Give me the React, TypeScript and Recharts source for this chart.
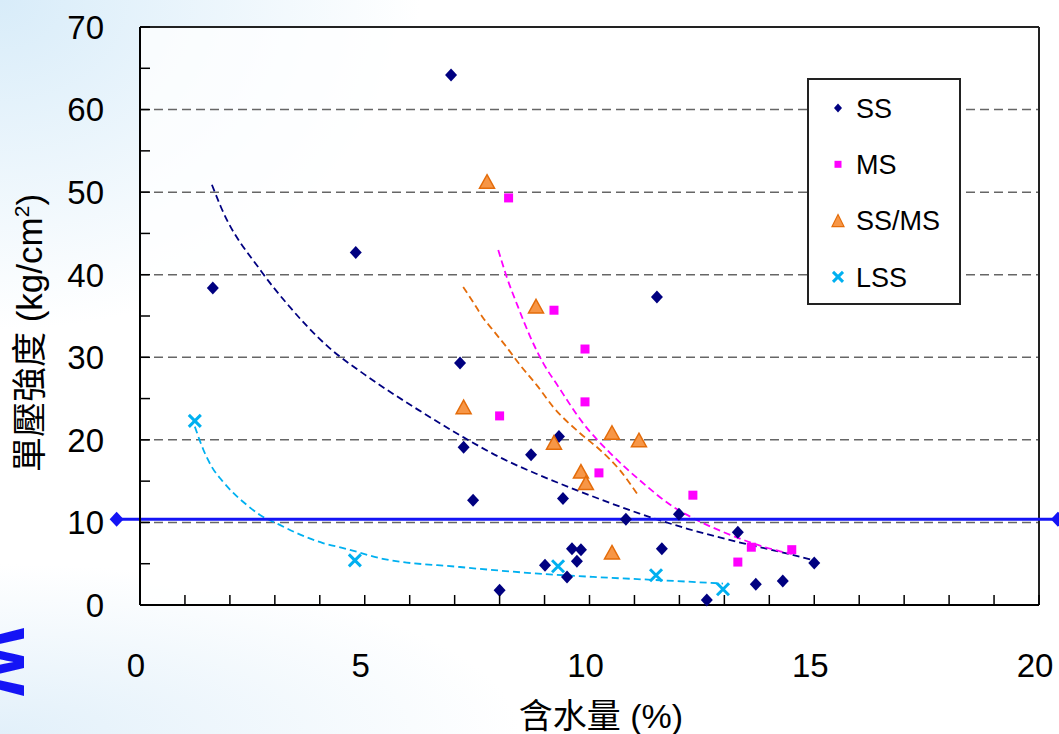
import React from 'react'
import {
  ComposedChart,
  Scatter,
  Line,
  XAxis,
  YAxis,
  ReferenceLine,
  ReferenceDot,
} from 'recharts'

type Pt = { x: number; y: number }

// measured points
const ssPoints: Pt[] = [
  { x: 1.62, y: 38.4 }, { x: 4.8, y: 42.7 }, { x: 6.92, y: 64.2 }, { x: 11.5, y: 37.3 },
  { x: 7.12, y: 29.3 }, { x: 7.2, y: 19.1 }, { x: 7.41, y: 12.7 }, { x: 8.0, y: 1.8 },
  { x: 8.7, y: 18.2 }, { x: 9.32, y: 20.4 }, { x: 9.41, y: 12.9 }, { x: 9.01, y: 4.8 },
  { x: 9.5, y: 3.4 }, { x: 9.61, y: 6.8 }, { x: 9.81, y: 6.7 }, { x: 9.72, y: 5.3 },
  { x: 10.81, y: 10.4 }, { x: 11.61, y: 6.8 }, { x: 11.99, y: 11.0 }, { x: 12.61, y: 0.6 },
  { x: 13.3, y: 8.8 }, { x: 13.7, y: 2.5 }, { x: 14.3, y: 2.9 }, { x: 15.0, y: 5.1 },
]
const msPoints: Pt[] = [
  { x: 8.2, y: 49.3 }, { x: 9.21, y: 35.7 }, { x: 9.9, y: 31.0 }, { x: 9.9, y: 24.6 },
  { x: 8.0, y: 22.9 }, { x: 10.21, y: 16.0 }, { x: 12.3, y: 13.3 }, { x: 13.3, y: 5.2 },
  { x: 13.6, y: 7.0 }, { x: 14.5, y: 6.7 },
]
const ssmsPoints: Pt[] = [
  { x: 7.72, y: 51.2 }, { x: 8.81, y: 36.1 }, { x: 7.2, y: 23.9 }, { x: 9.21, y: 19.6 },
  { x: 10.5, y: 20.8 }, { x: 11.1, y: 19.9 }, { x: 9.81, y: 16.1 }, { x: 9.92, y: 14.7 },
  { x: 10.5, y: 6.3 },
]
const lssPoints: Pt[] = [
  { x: 1.22, y: 22.3 }, { x: 4.78, y: 5.4 }, { x: 9.3, y: 4.7 }, { x: 11.48, y: 3.6 },
  { x: 12.97, y: 1.9 },
]

// trend curves
const ssTrend: Pt[] = [
  { x: 1.6, y: 50.9 }, { x: 1.8, y: 48.2 }, { x: 2.7, y: 40.4 }, { x: 3.3, y: 36.3 },
  { x: 4.2, y: 31.2 }, { x: 5.0, y: 27.9 }, { x: 6.2, y: 23.6 }, { x: 7.2, y: 20.3 },
  { x: 8.0, y: 17.9 }, { x: 8.9, y: 15.7 }, { x: 10.0, y: 13.3 }, { x: 11.1, y: 11.1 },
  { x: 12.2, y: 9.2 }, { x: 13.4, y: 7.5 }, { x: 14.5, y: 6.1 }, { x: 15.0, y: 5.4 },
]
const msTrend: Pt[] = [
  { x: 7.97, y: 43.0 }, { x: 8.16, y: 39.7 }, { x: 8.41, y: 36.1 }, { x: 8.68, y: 32.5 },
  { x: 8.97, y: 29.3 }, { x: 9.3, y: 26.5 }, { x: 9.86, y: 22.0 }, { x: 10.46, y: 18.4 },
  { x: 11.12, y: 15.1 }, { x: 11.86, y: 11.9 }, { x: 12.46, y: 10.1 }, { x: 13.13, y: 8.5 },
  { x: 13.73, y: 7.3 }, { x: 14.24, y: 6.5 }, { x: 14.5, y: 6.2 },
]
const ssmsTrend: Pt[] = [
  { x: 7.19, y: 38.5 }, { x: 7.41, y: 36.7 }, { x: 7.63, y: 34.8 }, { x: 7.85, y: 33.3 },
  { x: 8.16, y: 31.2 }, { x: 8.45, y: 29.1 }, { x: 8.83, y: 26.6 }, { x: 9.19, y: 24.0 },
  { x: 9.79, y: 20.8 }, { x: 10.23, y: 18.8 }, { x: 10.68, y: 16.3 }, { x: 11.08, y: 13.3 },
]
const lssTrend: Pt[] = [
  { x: 1.22, y: 21.6 }, { x: 1.41, y: 18.8 }, { x: 1.6, y: 16.7 }, { x: 1.82, y: 15.1 },
  { x: 2.07, y: 13.6 }, { x: 2.38, y: 12.1 }, { x: 2.67, y: 10.9 }, { x: 3.11, y: 9.7 },
  { x: 3.49, y: 8.7 }, { x: 4.07, y: 7.5 }, { x: 4.52, y: 6.9 }, { x: 5.4, y: 5.6 },
  { x: 7.12, y: 4.6 }, { x: 8.61, y: 3.9 }, { x: 10.08, y: 3.4 }, { x: 11.57, y: 3.0 },
  { x: 12.97, y: 2.6 },
]

const limitValue = 10.4
const limitSpan = [-0.52, 20.42]

const xTicks = [0, 1, 2, 3, 4, 5, 6, 7, 8, 9, 10, 11, 12, 13, 14, 15, 16, 17, 18, 19, 20]
const xLabels = [0, 5, 10, 15, 20]
const yTicks = [0, 5, 10, 15, 20, 25, 30, 35, 40, 45, 50, 55, 60, 65, 70]
const yLabels = [0, 10, 20, 30, 40, 50, 60, 70]
const gridLevels = [10, 20, 30, 40, 50, 60, 70]

const seriesNames = ['SS', 'MS', 'SS/MS', 'LSS']

const NAVY = '#000080'
const PINK = '#FF00FF'
const ORANGE = '#F79646'
const ORANGE_DK = '#E46C0A'
const CYAN = '#00B0F0'
const BLUE = '#1414F5'

const FONT = "'Liberation Sans', Arial, 'Noto Sans CJK TC', sans-serif"

const Diamond = (p: any) => (
  <polygon
    points={`${p.cx},${p.cy - 6.5} ${p.cx + 6},${p.cy} ${p.cx},${p.cy + 6.5} ${p.cx - 6},${p.cy}`}
    fill={NAVY}
  />
)
const Square = (p: any) => (
  <rect x={p.cx - 4.5} y={p.cy - 4.5} width={9} height={9} fill={PINK} />
)
const Triangle = (p: any) => (
  <polygon
    points={`${p.cx},${p.cy - 7.5} ${p.cx + 7.5},${p.cy + 6} ${p.cx - 7.5},${p.cy + 6}`}
    fill={ORANGE}
    stroke={ORANGE_DK}
    strokeWidth={1.5}
  />
)
const Cross = (p: any) => (
  <g stroke={CYAN} strokeWidth={3}>
    <line x1={p.cx - 6} y1={p.cy - 6} x2={p.cx + 6} y2={p.cy + 6} />
    <line x1={p.cx - 6} y1={p.cy + 6} x2={p.cx + 6} y2={p.cy - 6} />
  </g>
)
const BlueDiamond = (p: any) => (
  <polygon
    points={`${p.cx},${p.cy - 7.5} ${p.cx + 7},${p.cy} ${p.cx},${p.cy + 7.5} ${p.cx - 7},${p.cy}`}
    fill={BLUE}
  />
)

const XTick = (props: any) => {
  const { x, y, payload } = props
  return (
    <g>
      <line x1={x} y1={y} x2={x} y2={y - 10} stroke="#000" strokeWidth={1.5} />
      {xLabels.includes(payload.value) && (
        <text x={x - 4} y={y + 60} dy="0.36em" textAnchor="middle" fontSize={33} fill="#000" fontFamily={FONT}>
          {payload.value}
        </text>
      )}
    </g>
  )
}

const YTick = (props: any) => {
  const { x, y, payload } = props
  return (
    <g>
      <line x1={x} y1={y} x2={x + 10} y2={y} stroke="#000" strokeWidth={1.5} />
      {yLabels.includes(payload.value) && (
        <text x={x - 36} y={y} dy="0.36em" textAnchor="end" fontSize={33} fill="#000" fontFamily={FONT}>
          {payload.value}
        </text>
      )}
    </g>
  )
}

const legendMarks = [
  (cx: number, cy: number) => (
    <polygon points={`${cx},${cy - 4.5} ${cx + 4},${cy} ${cx},${cy + 4.5} ${cx - 4},${cy}`} fill={NAVY} />
  ),
  (cx: number, cy: number) => <rect x={cx - 3.5} y={cy - 3.5} width={7} height={7} fill={PINK} />,
  (cx: number, cy: number) => (
    <polygon points={`${cx},${cy - 6} ${cx + 6},${cy + 6} ${cx - 6},${cy + 6}`} fill={ORANGE} stroke={ORANGE_DK} strokeWidth={1.2} />
  ),
  (cx: number, cy: number) => (
    <g stroke={CYAN} strokeWidth={3}>
      <line x1={cx - 5} y1={cy - 5} x2={cx + 5} y2={cy + 5} />
      <line x1={cx - 5} y1={cy + 5} x2={cx + 5} y2={cy - 5} />
    </g>
  ),
]

const LegendBox = () => (
  <svg
    width={155}
    height={228}
    style={{ position: 'absolute', left: 807, top: 78 }}
  >
    <rect x={1} y={1} width={152} height={225} fill="#fff" stroke="#222" strokeWidth={2} />
    {seriesNames.map((name, i) => {
      const cy = 30 + i * 56.3
      return (
        <g key={name}>
          {legendMarks[i](31, cy)}
          <text x={49} y={cy} dy="0.36em" fontSize={27} fontFamily={FONT} fill="#000">
            {name}
          </text>
        </g>
      )
    })}
  </svg>
)

export default function App() {
  return (
    <div
      style={{
        position: 'absolute',
        left: 0,
        top: 0,
        width: 1059,
        height: 734,
        overflow: 'hidden',
        fontFamily: FONT,
        background:
          'radial-gradient(ellipse 420px 330px at 0% 0%, #d8ecf9 0%, rgba(255,255,255,0) 100%), radial-gradient(ellipse 520px 170px at 0% 100%, #e2f0fa 0%, rgba(255,255,255,0) 100%), #ffffff',
      }}
    >
      <div
        style={{
          position: 'absolute',
          left: 140,
          top: 27,
          width: 899,
          height: 578,
          background: 'rgba(255,255,255,0.75)',
        }}
      />
      <ComposedChart
        width={1059}
        height={734}
        margin={{ top: 27, right: 20, bottom: 69, left: 60 }}
        style={{ position: 'absolute', left: 0, top: 0 }}
      >
        <XAxis
          type="number"
          dataKey="x"
          domain={[0, 20]}
          ticks={xTicks}
          interval={0}
          tickSize={0}
          tickMargin={0}
          tickLine={false}
          tick={<XTick />}
          axisLine={{ stroke: '#000', strokeWidth: 2 }}
          height={60}
        />
        <YAxis
          type="number"
          dataKey="y"
          domain={[0, 70]}
          ticks={yTicks}
          interval={0}
          tickSize={0}
          tickMargin={0}
          tickLine={false}
          tick={<YTick />}
          axisLine={{ stroke: '#000', strokeWidth: 2 }}
          width={80}
        />
        {gridLevels.map((v) => (
          <ReferenceLine key={v} y={v} stroke="#666" strokeWidth={1.5} strokeDasharray="9 5" />
        ))}
        <ReferenceLine y={70} stroke="#222" strokeWidth={2} />
        <ReferenceLine x={20} stroke="#222" strokeWidth={2} />

        <Line data={ssTrend} dataKey="y" type="monotone" stroke={NAVY} strokeWidth={1.8} strokeDasharray="7 4" dot={false} activeDot={false} isAnimationActive={false} />
        <Line data={msTrend} dataKey="y" type="monotone" stroke={PINK} strokeWidth={1.8} strokeDasharray="7 4" dot={false} activeDot={false} isAnimationActive={false} />
        <Line data={ssmsTrend} dataKey="y" type="monotone" stroke={ORANGE_DK} strokeWidth={1.8} strokeDasharray="7 4" dot={false} activeDot={false} isAnimationActive={false} />
        <Line data={lssTrend} dataKey="y" type="monotone" stroke={CYAN} strokeWidth={1.8} strokeDasharray="7 4" dot={false} activeDot={false} isAnimationActive={false} />

        <ReferenceLine
          segment={[
            { x: limitSpan[0], y: limitValue },
            { x: limitSpan[1], y: limitValue },
          ]}
          stroke={BLUE}
          strokeWidth={3}
          ifOverflow="visible"
        />
        {limitSpan.map((xv) => (
          <ReferenceDot key={xv} x={xv} y={limitValue} ifOverflow="visible" shape={BlueDiamond} />
        ))}

        <Scatter data={ssPoints} dataKey="y" shape={Diamond} isAnimationActive={false} />
        <Scatter data={msPoints} dataKey="y" shape={Square} isAnimationActive={false} />
        <Scatter data={ssmsPoints} dataKey="y" shape={Triangle} isAnimationActive={false} />
        <Scatter data={lssPoints} dataKey="y" shape={Cross} isAnimationActive={false} />
      </ComposedChart>

      <LegendBox />

      <div
        style={{
          position: 'absolute',
          left: 29,
          top: 333,
          transform: 'translate(-50%, -50%) rotate(-90deg)',
          whiteSpace: 'nowrap',
          fontSize: 35,
          lineHeight: 1,
          color: '#000',
        }}
      >
        單壓強度 (kg/cm<sup style={{ fontSize: 21 }}>2</sup>)
      </div>
      <div
        style={{
          position: 'absolute',
          left: 601,
          top: 716,
          transform: 'translate(-50%, -50%)',
          whiteSpace: 'nowrap',
          fontSize: 34,
          lineHeight: 1,
          color: '#000',
        }}
      >
        含水量 (%)
      </div>
      <div
        style={{
          position: 'absolute',
          left: -32,
          top: 628,
          width: 62,
          height: 62,
          transform: 'rotate(90deg)',
          fontSize: 72,
          fontWeight: 'bold',
          lineHeight: '62px',
          color: BLUE,
          textAlign: 'center',
        }}
      >
        W
      </div>
    </div>
  )
}
